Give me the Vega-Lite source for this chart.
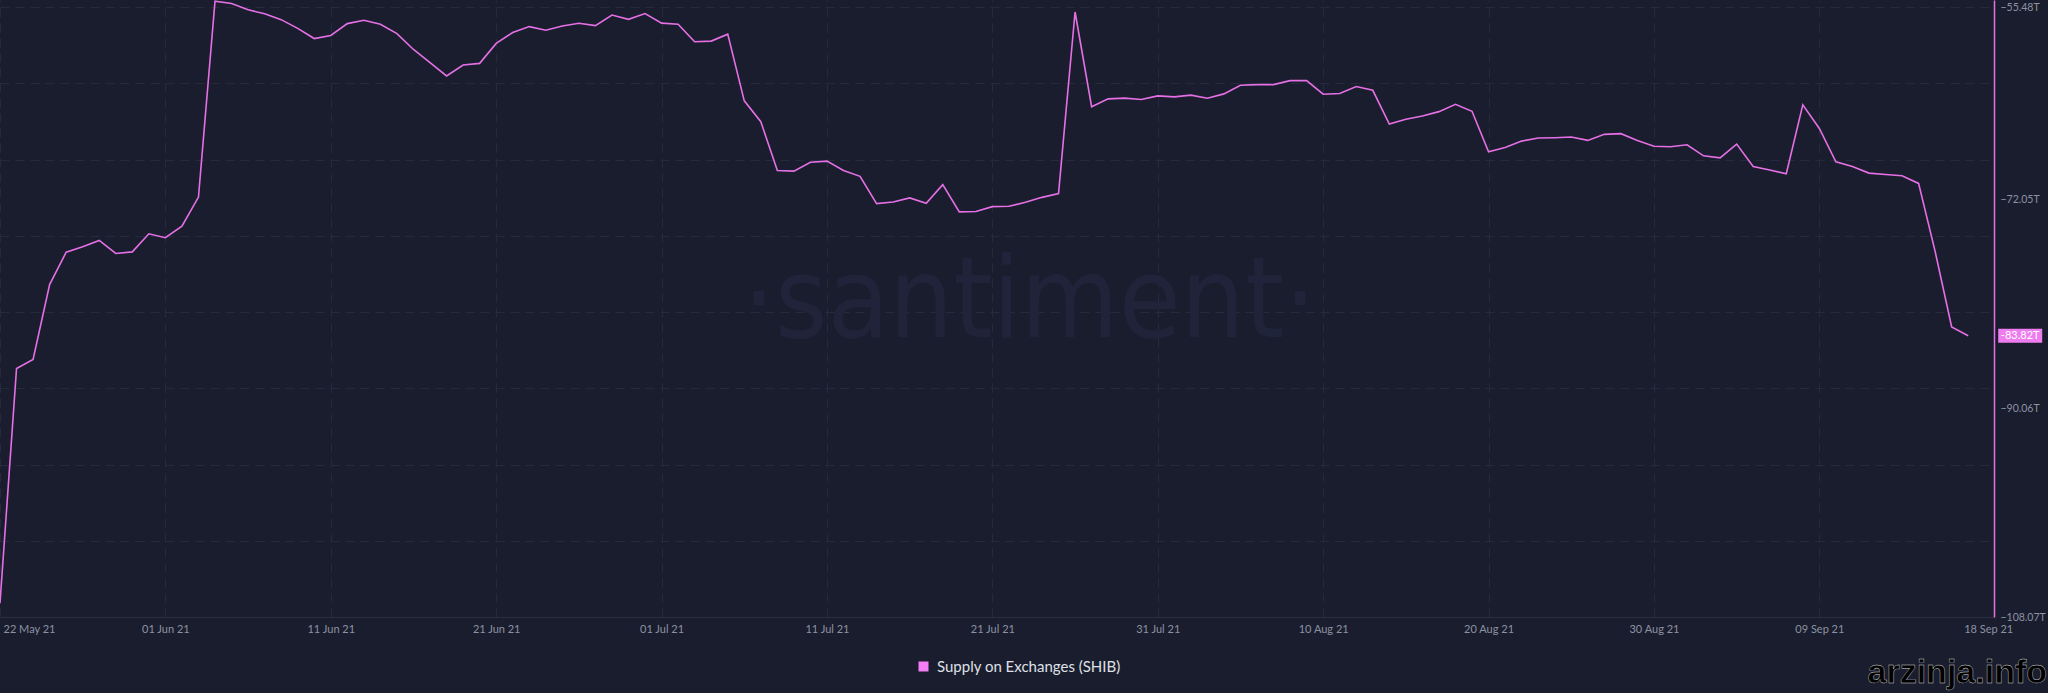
{
  "$schema": "https://vega.github.io/schema/vega-lite/v6.json",
  "width": 1994,
  "height": 617,
  "autosize": {"type": "none"},
  "padding": {"left": 0, "top": 0, "right": 54, "bottom": 76},
  "background": "#1a1d2d",
  "config": {"view": {"stroke": null}, "font": "Lato"},
  "data": {
    "values": [
      {"date": "2021-05-22", "value": -106.88},
      {"date": "2021-05-23", "value": -86.65},
      {"date": "2021-05-24", "value": -85.87},
      {"date": "2021-05-25", "value": -79.41},
      {"date": "2021-05-26", "value": -76.62},
      {"date": "2021-05-27", "value": -76.15},
      {"date": "2021-05-28", "value": -75.60},
      {"date": "2021-05-29", "value": -76.73},
      {"date": "2021-05-30", "value": -76.59},
      {"date": "2021-05-31", "value": -75.03},
      {"date": "2021-06-01", "value": -75.37},
      {"date": "2021-06-02", "value": -74.38},
      {"date": "2021-06-03", "value": -71.87},
      {"date": "2021-06-04", "value": -54.97},
      {"date": "2021-06-05", "value": -55.17},
      {"date": "2021-06-06", "value": -55.72},
      {"date": "2021-06-07", "value": -56.06},
      {"date": "2021-06-08", "value": -56.57},
      {"date": "2021-06-09", "value": -57.32},
      {"date": "2021-06-10", "value": -58.20},
      {"date": "2021-06-11", "value": -57.93},
      {"date": "2021-06-12", "value": -56.91},
      {"date": "2021-06-13", "value": -56.62},
      {"date": "2021-06-14", "value": -56.97},
      {"date": "2021-06-15", "value": -57.77},
      {"date": "2021-06-16", "value": -59.14},
      {"date": "2021-06-17", "value": -60.28},
      {"date": "2021-06-18", "value": -61.42},
      {"date": "2021-06-19", "value": -60.48},
      {"date": "2021-06-20", "value": -60.34},
      {"date": "2021-06-21", "value": -58.62},
      {"date": "2021-06-22", "value": -57.68},
      {"date": "2021-06-23", "value": -57.17},
      {"date": "2021-06-24", "value": -57.48},
      {"date": "2021-06-25", "value": -57.11},
      {"date": "2021-06-26", "value": -56.88},
      {"date": "2021-06-27", "value": -57.08},
      {"date": "2021-06-28", "value": -56.17},
      {"date": "2021-06-29", "value": -56.54},
      {"date": "2021-06-30", "value": -56.05},
      {"date": "2021-07-01", "value": -56.87},
      {"date": "2021-07-02", "value": -56.97},
      {"date": "2021-07-03", "value": -58.48},
      {"date": "2021-07-04", "value": -58.42},
      {"date": "2021-07-05", "value": -57.82},
      {"date": "2021-07-06", "value": -63.57},
      {"date": "2021-07-07", "value": -65.37},
      {"date": "2021-07-08", "value": -69.57},
      {"date": "2021-07-09", "value": -69.63},
      {"date": "2021-07-10", "value": -68.86},
      {"date": "2021-07-11", "value": -68.77},
      {"date": "2021-07-12", "value": -69.57},
      {"date": "2021-07-13", "value": -70.08},
      {"date": "2021-07-14", "value": -72.43},
      {"date": "2021-07-15", "value": -72.29},
      {"date": "2021-07-16", "value": -71.94},
      {"date": "2021-07-17", "value": -72.40},
      {"date": "2021-07-18", "value": -70.80},
      {"date": "2021-07-19", "value": -73.14},
      {"date": "2021-07-20", "value": -73.11},
      {"date": "2021-07-21", "value": -72.69},
      {"date": "2021-07-22", "value": -72.66},
      {"date": "2021-07-23", "value": -72.32},
      {"date": "2021-07-24", "value": -71.89},
      {"date": "2021-07-25", "value": -71.57},
      {"date": "2021-07-26", "value": -55.91},
      {"date": "2021-07-27", "value": -64.08},
      {"date": "2021-07-28", "value": -63.40},
      {"date": "2021-07-29", "value": -63.34},
      {"date": "2021-07-30", "value": -63.45},
      {"date": "2021-07-31", "value": -63.14},
      {"date": "2021-08-01", "value": -63.23},
      {"date": "2021-08-02", "value": -63.08},
      {"date": "2021-08-03", "value": -63.34},
      {"date": "2021-08-04", "value": -62.97},
      {"date": "2021-08-05", "value": -62.23},
      {"date": "2021-08-06", "value": -62.17},
      {"date": "2021-08-07", "value": -62.17},
      {"date": "2021-08-08", "value": -61.83},
      {"date": "2021-08-09", "value": -61.83},
      {"date": "2021-08-10", "value": -63.00},
      {"date": "2021-08-11", "value": -62.94},
      {"date": "2021-08-12", "value": -62.34},
      {"date": "2021-08-13", "value": -62.66},
      {"date": "2021-08-14", "value": -65.57},
      {"date": "2021-08-15", "value": -65.16},
      {"date": "2021-08-16", "value": -64.88},
      {"date": "2021-08-17", "value": -64.50},
      {"date": "2021-08-18", "value": -63.87},
      {"date": "2021-08-19", "value": -64.47},
      {"date": "2021-08-20", "value": -67.96},
      {"date": "2021-08-21", "value": -67.59},
      {"date": "2021-08-22", "value": -67.04},
      {"date": "2021-08-23", "value": -66.78},
      {"date": "2021-08-24", "value": -66.75},
      {"date": "2021-08-25", "value": -66.69},
      {"date": "2021-08-26", "value": -66.98},
      {"date": "2021-08-27", "value": -66.46},
      {"date": "2021-08-28", "value": -66.40},
      {"date": "2021-08-29", "value": -66.98},
      {"date": "2021-08-30", "value": -67.48},
      {"date": "2021-08-31", "value": -67.53},
      {"date": "2021-09-01", "value": -67.36},
      {"date": "2021-09-02", "value": -68.31},
      {"date": "2021-09-03", "value": -68.48},
      {"date": "2021-09-04", "value": -67.30},
      {"date": "2021-09-05", "value": -69.23},
      {"date": "2021-09-06", "value": -69.54},
      {"date": "2021-09-07", "value": -69.86},
      {"date": "2021-09-08", "value": -63.92},
      {"date": "2021-09-09", "value": -65.95},
      {"date": "2021-09-10", "value": -68.83},
      {"date": "2021-09-11", "value": -69.23},
      {"date": "2021-09-12", "value": -69.80},
      {"date": "2021-09-13", "value": -69.92},
      {"date": "2021-09-14", "value": -70.03},
      {"date": "2021-09-15", "value": -70.69},
      {"date": "2021-09-16", "value": -76.55},
      {"date": "2021-09-17", "value": -83.07},
      {"date": "2021-09-18", "value": -83.82}
    ]
  },
  "resolve": {"axis": {"x": "independent", "y": "independent"}},
  "layer": [
    {
      "data": {"values": [{}]},
      "mark": {"type": "text", "text": "·santiment·", "font": "Liberation Sans Narrow, DejaVu Sans Condensed, sans-serif", "fontSize": 112, "color": "#20243a", "align": "center", "baseline": "alphabetic"},
      "encoding": {
        "x": {"datum": {"year": 2021, "month": 7, "date": 23, "hours": 6, "utc": true}, "type": "temporal", "axis": null},
        "y": {"datum": -83.93, "type": "quantitative", "axis": null}
      }
    },
    {
      "mark": {"type": "line", "strokeWidth": 1.6, "interpolate": "linear"},
      "encoding": {
        "x": {
          "field": "date",
          "type": "temporal",
          "scale": {"type": "utc", "domain": [{"year": 2021, "month": 5, "date": 22, "utc": true}, {"year": 2021, "month": 9, "date": 19, "hours": 13, "minutes": 26, "utc": true}]},
          "axis": {
            "orient": "bottom",
            "title": null,
            "values": [
              {"year": 2021, "month": 5, "date": 22, "utc": true},
              {"year": 2021, "month": 6, "date": 1, "utc": true},
              {"year": 2021, "month": 6, "date": 11, "utc": true},
              {"year": 2021, "month": 6, "date": 21, "utc": true},
              {"year": 2021, "month": 7, "date": 1, "utc": true},
              {"year": 2021, "month": 7, "date": 11, "utc": true},
              {"year": 2021, "month": 7, "date": 21, "utc": true},
              {"year": 2021, "month": 7, "date": 31, "utc": true},
              {"year": 2021, "month": 8, "date": 10, "utc": true},
              {"year": 2021, "month": 8, "date": 20, "utc": true},
              {"year": 2021, "month": 8, "date": 30, "utc": true},
              {"year": 2021, "month": 9, "date": 9, "utc": true},
              {"year": 2021, "month": 9, "date": 18, "utc": true}
            ],
            "labelExpr": "utcFormat(datum.value, '%d %b %y')",
            "grid": false,
            "ticks": false,
            "domain": true,
            "domainColor": "#2a2e40",
            "domainWidth": 1,
            "labelColor": "#8d92a3",
            "labelFontSize": 11,
            "labelPadding": 6,
            "labelBound": false,
            "labelFlush": false,
            "labelOverlap": false,
            "labelOffset": {
              "condition": [
                {"test": "utcmonth(datum.value) == 4 && utcdate(datum.value) == 22", "value": 29},
                {"test": "utcmonth(datum.value) == 8 && utcdate(datum.value) == 18", "value": 20}
              ],
              "value": 0
            }
          }
        },
        "y": {
          "field": "value",
          "type": "quantitative",
          "scale": {"domain": [-108.07, -54.876], "nice": false, "zero": false},
          "axis": {
            "orient": "right",
            "title": null,
            "values": [-55.48, -72.05, -90.06, -108.07],
            "labelExpr": "format(datum.value, '.2f') + 'T'",
            "grid": false,
            "ticks": false,
            "domain": true,
            "domainColor": "#e570e5",
            "domainWidth": 1.5,
            "labelColor": "#8d92a3",
            "labelFontSize": 10.5,
            "labelPadding": 6,
            "labelBound": false,
            "labelOverlap": false
          }
        },
        "color": {
          "datum": "Supply on Exchanges (SHIB)",
          "scale": {"range": ["#e570e5"]},
          "legend": {
            "orient": "none",
            "legendX": 916,
            "legendY": 659,
            "title": null,
            "symbolType": "square",
            "symbolSize": 100,
            "symbolFillColor": "#f57df5",
            "symbolStrokeColor": "#f57df5",
            "symbolStrokeWidth": 0,
            "symbolOpacity": 1,
            "labelColor": "#dfe0e6",
            "labelFontSize": 15,
            "labelFont": "Lato",
            "labelOffset": 6,
            "labelLimit": 0
          }
        }
      }
    },
    {
      "transform": [{"filter": "utcmonth(datum.date) == 8 && utcdate(datum.date) == 18"}],
      "mark": {"type": "point", "shape": "M-1,-0.318L1,-0.318L1,0.318L-1,0.318Z", "size": 1936, "filled": true, "color": "#ef7cef", "opacity": 1, "strokeWidth": 0, "xOffset": 52},
      "encoding": {
        "x": {
          "field": "date",
          "type": "temporal",
          "axis": {
            "orient": "top",
            "title": null,
            "labels": false,
            "ticks": false,
            "domain": false,
            "grid": true,
            "gridColor": "#262a3c",
            "gridDash": [9, 6],
            "gridWidth": 1,
            "values": [
              {"year": 2021, "month": 5, "date": 22, "utc": true},
              {"year": 2021, "month": 6, "date": 1, "utc": true},
              {"year": 2021, "month": 6, "date": 11, "utc": true},
              {"year": 2021, "month": 6, "date": 21, "utc": true},
              {"year": 2021, "month": 7, "date": 1, "utc": true},
              {"year": 2021, "month": 7, "date": 11, "utc": true},
              {"year": 2021, "month": 7, "date": 21, "utc": true},
              {"year": 2021, "month": 7, "date": 31, "utc": true},
              {"year": 2021, "month": 8, "date": 10, "utc": true},
              {"year": 2021, "month": 8, "date": 20, "utc": true},
              {"year": 2021, "month": 8, "date": 30, "utc": true},
              {"year": 2021, "month": 9, "date": 9, "utc": true}
            ]
          }
        },
        "y": {
          "field": "value",
          "type": "quantitative",
          "axis": {
            "orient": "left",
            "title": null,
            "labels": false,
            "ticks": false,
            "domain": false,
            "grid": true,
            "gridColor": "#262a3c",
            "gridDash": [9, 6],
            "gridWidth": 1,
            "values": [-55.48, -62.054, -68.628, -75.201, -81.775, -88.349, -94.923, -101.496]
          }
        }
      }
    },
    {
      "transform": [{"filter": "utcmonth(datum.date) == 8 && utcdate(datum.date) == 18"}],
      "mark": {"type": "text", "text": "-83.82T", "color": "#ffffff", "fontSize": 11, "font": "Lato", "align": "center", "baseline": "middle", "dx": 52},
      "encoding": {
        "x": {"field": "date", "type": "temporal", "axis": null},
        "y": {"field": "value", "type": "quantitative", "axis": null}
      }
    },
    {
      "data": {"values": [{}]},
      "mark": {"type": "text", "text": "arzinja.info", "font": "Liberation Sans", "fontWeight": "bold", "fontSize": 34, "color": "#000000", "stroke": "#d8d8d8", "strokeWidth": 0.4, "align": "right", "baseline": "alphabetic", "dx": 53, "dy": 66},
      "encoding": {
        "x": {"datum": {"year": 2021, "month": 9, "date": 19, "hours": 13, "minutes": 26, "utc": true}, "type": "temporal", "axis": null},
        "y": {"datum": -108.07, "type": "quantitative", "axis": null}
      }
    }
  ]
}
